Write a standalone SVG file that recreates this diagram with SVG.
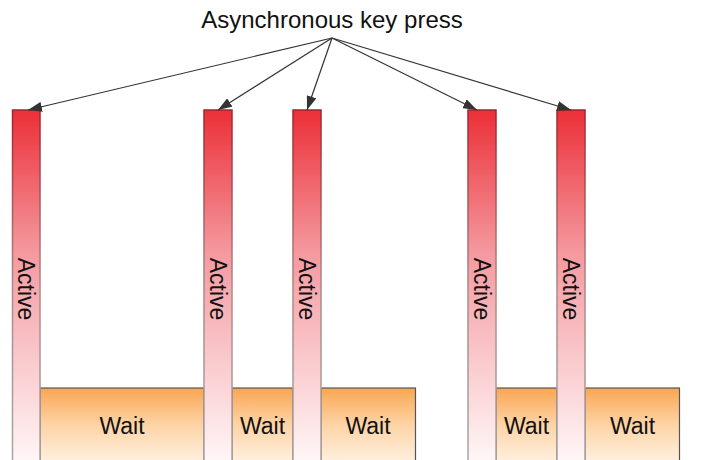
<svg xmlns="http://www.w3.org/2000/svg" width="707" height="460" viewBox="0 0 707 460">
<defs>
<linearGradient id="gAct" x1="0" y1="0" x2="0" y2="1">
<stop offset="0" stop-color="#ec2f37"/>
<stop offset="0.4" stop-color="#f49aa0"/>
<stop offset="1" stop-color="#fffafa"/>
</linearGradient>
<linearGradient id="gActS" x1="0" y1="0" x2="0" y2="1">
<stop offset="0" stop-color="#a0262c"/>
<stop offset="0.5" stop-color="#b08888"/>
<stop offset="1" stop-color="#a8a8a8"/>
</linearGradient>
<linearGradient id="gWait" x1="0" y1="0" x2="0" y2="1">
<stop offset="0" stop-color="#f9a652"/>
<stop offset="0.45" stop-color="#fdd3a4"/>
<stop offset="1" stop-color="#fff5ea"/>
</linearGradient>
<marker id="ah" viewBox="0 0 14 10" refX="14" refY="5" markerWidth="14" markerHeight="10" markerUnits="userSpaceOnUse" orient="auto">
<path d="M0,0 L14,5 L0,10 Z" fill="#333"/>
</marker>
</defs>
<style>
.wait{fill:url(#gWait);stroke:#555;stroke-width:1.2}
.act{fill:url(#gAct);stroke:url(#gActS);stroke-width:1.5}
.t{font-family:"Liberation Sans",Arial,sans-serif;font-size:23px;fill:#111}
.title{font-size:24px}
.c{stroke:#333;stroke-width:1.2;fill:none;marker-end:url(#ah)}
</style>
<text class="t title" x="332" y="28" text-anchor="middle">Asynchronous key press</text>
<g id="wait1"><rect class="wait" x="40" y="388" width="164" height="80"/><text class="t" x="122" y="434" text-anchor="middle">Wait</text></g>
<g id="wait2"><rect class="wait" x="232" y="388" width="61" height="80"/><text class="t" x="262.5" y="434" text-anchor="middle">Wait</text></g>
<g id="wait3"><rect class="wait" x="321" y="388" width="94.5" height="80"/><text class="t" x="368" y="434" text-anchor="middle">Wait</text></g>
<g id="wait4"><rect class="wait" x="496" y="388" width="61" height="80"/><text class="t" x="526.5" y="434" text-anchor="middle">Wait</text></g>
<g id="wait5"><rect class="wait" x="585" y="388" width="94.5" height="80"/><text class="t" x="632.5" y="434" text-anchor="middle">Wait</text></g>
<g id="active1"><rect class="act" x="12.5" y="110" width="27.5" height="360"/><text class="t" transform="translate(17.5,289) rotate(90)" text-anchor="middle">Active</text></g>
<g id="active2"><rect class="act" x="204" y="110" width="28" height="360"/><text class="t" transform="translate(209.5,289) rotate(90)" text-anchor="middle">Active</text></g>
<g id="active3"><rect class="act" x="293" y="110" width="28" height="360"/><text class="t" transform="translate(298.5,289) rotate(90)" text-anchor="middle">Active</text></g>
<g id="active4"><rect class="act" x="468" y="110" width="28" height="360"/><text class="t" transform="translate(473.5,289) rotate(90)" text-anchor="middle">Active</text></g>
<g id="active5"><rect class="act" x="557" y="110" width="28" height="360"/><text class="t" transform="translate(562.5,289) rotate(90)" text-anchor="middle">Active</text></g>
<g id="connectors">
<line class="c" x1="332" y1="38" x2="28" y2="110"/>
<line class="c" x1="332" y1="38" x2="218" y2="110"/>
<line class="c" x1="332" y1="38" x2="307" y2="110"/>
<line class="c" x1="332" y1="38" x2="477" y2="110"/>
<line class="c" x1="332" y1="38" x2="571" y2="110"/>
</g>
</svg>
